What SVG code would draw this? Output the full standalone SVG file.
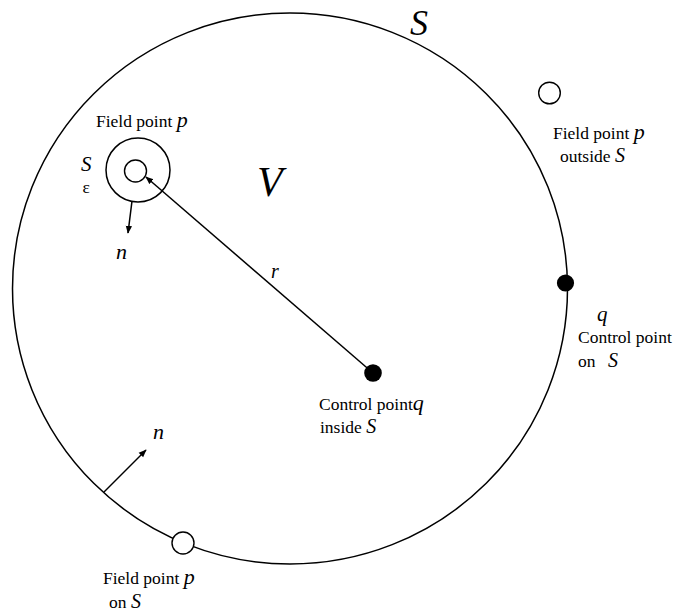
<svg xmlns="http://www.w3.org/2000/svg" width="677" height="613" viewBox="0 0 677 613">
<style>
.ln{fill:none;stroke:#000;stroke-width:1.5}
.fp{fill:#fff;stroke:#000;stroke-width:1.4}
.cp{fill:#000}
.t{font-family:"Liberation Serif","Times New Roman",serif;font-size:17.5px;fill:#000}
.v{font-family:"Liberation Serif","Times New Roman",serif;font-style:italic;fill:#000}
</style>
<defs>
<marker id="ah" viewBox="0 0 10 10" refX="9" refY="5" markerWidth="8" markerHeight="8" markerUnits="userSpaceOnUse" orient="auto">
<path d="M0,1 L10,5 L0,9 Z" fill="#000"/>
</marker>
</defs>
<rect width="677" height="613" fill="#fff"/>

<g id="surface-S">
<ellipse class="ln" cx="290" cy="288.5" rx="277.5" ry="275.5"/>
<text class="v" x="410" y="35" font-size="36">S</text>
<text class="v" x="257" y="196" font-size="42">V</text>
</g>

<g id="field-point-inside">
<circle class="ln" cx="138" cy="170" r="32"/>
<circle class="fp" cx="135.5" cy="171" r="11"/>
<text class="t" x="96" y="127">Field point <tspan class="v" font-size="22">p</tspan></text>
<text class="v" x="81" y="170.5" font-size="21">S</text>
<text class="t" x="82.5" y="193" font-size="20">ε</text>
<text class="v" x="116" y="259" font-size="22">n</text>
</g>

<g id="field-point-outside">
<circle class="fp" cx="549.5" cy="93" r="10.8"/>
<text class="t" x="553" y="139">Field point <tspan class="v" font-size="22">p</tspan></text>
<text class="t" x="560" y="162">outside <tspan class="v" font-size="20">S</tspan></text>
</g>

<g id="control-point-on">
<circle class="cp" cx="565.5" cy="283" r="8.6"/>
<text class="v" x="597" y="321" font-size="21">q</text>
<text class="t" x="578" y="343">Control point</text>
<text class="t" x="578" y="367">on <tspan class="v" font-size="20" dx="8">S</tspan></text>
</g>

<g id="control-point-inside">
<circle class="cp" cx="373" cy="373" r="8.8"/>
<text class="t" x="319" y="410">Control point<tspan class="v" font-size="22">q</tspan></text>
<text class="t" x="320" y="433">inside <tspan class="v" font-size="20">S</tspan></text>
</g>

<g id="field-point-on">
<circle class="fp" cx="183" cy="543" r="11"/>
<text class="t" x="103" y="584">Field point <tspan class="v" font-size="22">p</tspan></text>
<text class="t" x="109" y="608">on <tspan class="v" font-size="20">S</tspan></text>
<text class="v" x="153" y="439" font-size="22">n</text>
</g>

<g id="connectors">
<line class="ln" x1="373" y1="373" x2="146" y2="177" marker-end="url(#ah)"/>
<text class="v" x="271" y="278" font-size="20">r</text>
<line class="ln" x1="132" y1="201" x2="128" y2="233" marker-end="url(#ah)"/>
<line class="ln" x1="104" y1="492" x2="146" y2="450" marker-end="url(#ah)"/>
</g>
</svg>
